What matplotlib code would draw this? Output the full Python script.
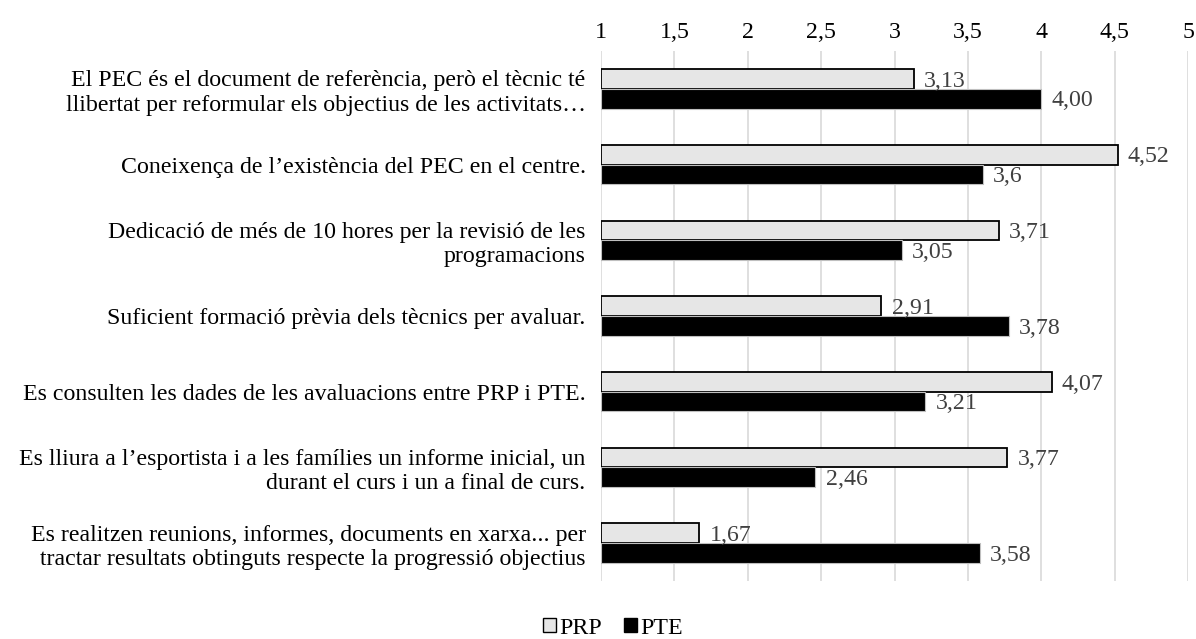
import matplotlib
matplotlib.use("Agg")
import matplotlib.pyplot as plt
import numpy as np
from matplotlib.patches import Patch

categories = [
    "El PEC és el document de referència, però el tècnic té\nllibertat per reformular els objectius de les activitats…",
    "Coneixença de l’existència del PEC en el centre.",
    "Dedicació de més de 10 hores per la revisió de les\nprogramacions",
    "Suficient formació prèvia dels tècnics per avaluar.",
    "Es consulten les dades de les avaluacions entre PRP i PTE.",
    "Es lliura a l’esportista i a les famílies un informe inicial, un\ndurant el curs i un a final de curs.",
    "Es realitzen reunions, informes, documents en xarxa... per\ntractar resultats obtinguts respecte la progressió objectius",
]
prp = [3.13, 4.52, 3.71, 2.91, 4.07, 3.77, 1.67]
pte = [4.00, 3.6, 3.05, 3.78, 3.21, 2.46, 3.58]
prp_labels = ["3,13", "4,52", "3,71", "2,91", "4,07", "3,77", "1,67"]
pte_labels = ["4,00", "3,6", "3,05", "3,78", "3,21", "2,46", "3,58"]
xticks = [1, 1.5, 2, 2.5, 3, 3.5, 4, 4.5, 5]
xticklabels = ["1", "1,5", "2", "2,5", "3", "3,5", "4", "4,5", "5"]

plt.rcParams['font.family'] = ['Liberation Serif', 'DejaVu Serif']
W, H = 1196, 639
fig = plt.figure(figsize=(W/100, H/100), dpi=100)
left, right, top, bottom = 601, 1188, 51, 581
ax = fig.add_axes([left/W, 1-bottom/H, (right-left)/W, (bottom-top)/H])

fs = 17.2
y = np.arange(len(categories))
h = 0.26
ax.barh(y - h/2, [v - 1 for v in prp], left=1, height=h, color="#e6e6e6",
        edgecolor="#000000", linewidth=1.3, zorder=3)
ax.barh(y + h/2, [v - 1 for v in pte], left=1, height=h, color="#000000",
        edgecolor="#bfbfbf", linewidth=0.8, zorder=3)

for i in range(len(categories)):
    ax.text(prp[i] + 0.07, y[i] - h/2 + 0.03, prp_labels[i], va="center", ha="left",
            fontsize=fs, color="#404040", zorder=4)
    ax.text(pte[i] + 0.07, y[i] + h/2 + 0.03, pte_labels[i], va="center", ha="left",
            fontsize=fs, color="#404040", zorder=4)

ax.set_xlim(1, 5)
ax.set_ylim(len(categories) - 0.5, -0.5)
ax.set_xticks(xticks)
ax.set_xticklabels(xticklabels, fontsize=fs)
ax.xaxis.tick_top()
ax.tick_params(axis="x", length=0, pad=6)
ax.set_yticks(y)
ax.set_yticklabels(categories, fontsize=fs, linespacing=1.2)
ax.tick_params(axis="y", length=0, pad=11)
ax.grid(axis="x", color="#d9d9d9", linewidth=1.2, zorder=0)
for s in ax.spines.values():
    s.set_visible(False)

handles = [Patch(facecolor="#e6e6e6", edgecolor="#000000", linewidth=1.0, label="PRP"),
           Patch(facecolor="#000000", edgecolor="#000000", label="PTE")]
fig.legend(handles=handles, loc="center", bbox_to_anchor=(613/W, 1-628/H), ncol=2,
           frameon=False, fontsize=fs, handlelength=0.55, handleheight=0.55,
           handletextpad=0.15, columnspacing=0.9)

fig.savefig("out.png", dpi=100)
